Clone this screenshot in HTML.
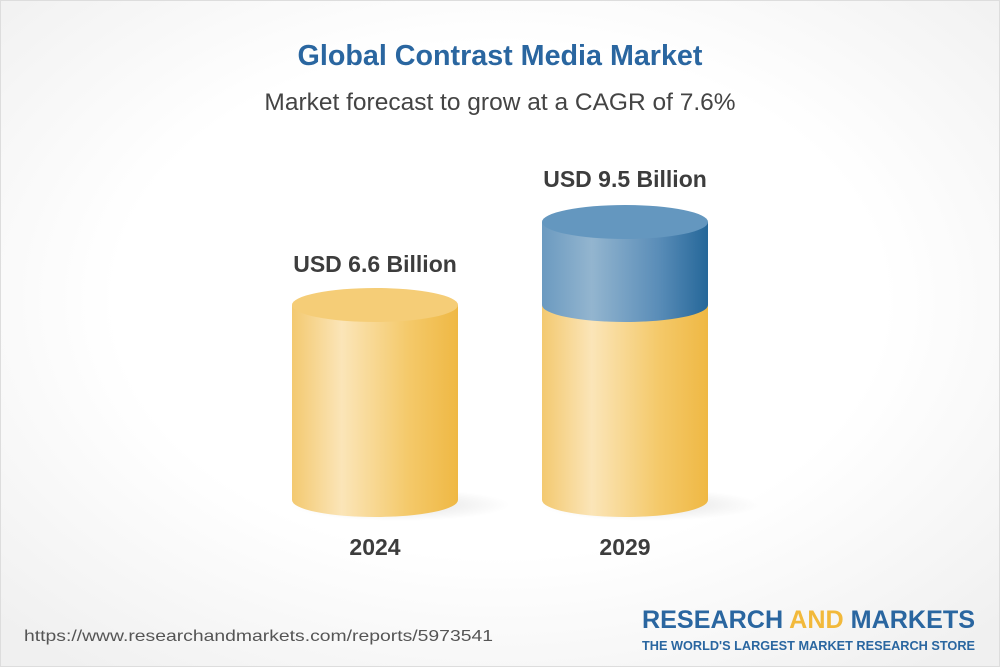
<!DOCTYPE html>
<html><head><style>
body{margin:0;width:1000px;height:667px;overflow:hidden;font-family:"Liberation Sans",sans-serif;}
.bg{position:absolute;left:0;top:0;width:998px;height:665px;border:1px solid #ddd;background:radial-gradient(ellipse 70% 70% at 50% 45%,#fff 55%,#f0f0f0 100%);}
.t{position:absolute;width:1000px;text-align:center;}
</style></head><body>
<div class="bg"></div>
<div class="t" style="top:40px;font-size:28.7px;font-weight:bold;color:#2a66a0;">Global Contrast Media Market</div>
<div class="t" style="top:89px;font-size:24.5px;color:#444;">Market forecast to grow at a CAGR of 7.6%</div>
<svg width="1000" height="667" style="position:absolute;left:0;top:0">
<defs>
<linearGradient id="y" x1="0" x2="1"><stop offset="0" stop-color="#f3c970"/><stop offset="0.3" stop-color="#fbe5b8"/><stop offset="0.7" stop-color="#f4c96a"/><stop offset="1" stop-color="#efb844"/></linearGradient>
<linearGradient id="b" x1="0" x2="1"><stop offset="0" stop-color="#6b9ac0"/><stop offset="0.3" stop-color="#93b5cf"/><stop offset="0.7" stop-color="#5a8db8"/><stop offset="1" stop-color="#256799"/></linearGradient>
<radialGradient id="sh"><stop offset="0" stop-color="#000" stop-opacity="0.12"/><stop offset="1" stop-color="#000" stop-opacity="0"/></radialGradient>
</defs>
<ellipse cx="400" cy="505" rx="110" ry="16" fill="url(#sh)"/>
<ellipse cx="650" cy="505" rx="110" ry="16" fill="url(#sh)"/>
<path d="M292 305 V500 A83 17 0 0 0 458 500 V305 Z" fill="url(#y)"/>
<ellipse cx="375" cy="305" rx="83" ry="17" fill="#f5cd77"/>
<path d="M542 305 V500 A83 17 0 0 0 708 500 V305 Z" fill="url(#y)"/>
<path d="M542 222 V305 A83 17 0 0 0 708 305 V222 Z" fill="url(#b)"/>
<ellipse cx="625" cy="222" rx="83" ry="17" fill="#6497bf"/>
<text x="375" y="272" text-anchor="middle" font-size="23" font-weight="bold" fill="#3d3d3d" font-family="Liberation Sans">USD 6.6 Billion</text>
<text x="625" y="187" text-anchor="middle" font-size="23" font-weight="bold" fill="#3d3d3d" font-family="Liberation Sans">USD 9.5 Billion</text>
<text x="375" y="555" text-anchor="middle" font-size="23" font-weight="bold" fill="#3d3d3d" font-family="Liberation Sans">2024</text>
<text x="625" y="555" text-anchor="middle" font-size="23" font-weight="bold" fill="#3d3d3d" font-family="Liberation Sans">2029</text>
<text x="24" y="641" font-size="16" fill="#555" font-family="Liberation Sans" textLength="469" lengthAdjust="spacingAndGlyphs">https://www.researchandmarkets.com/reports/5973541</text>
<text x="975" y="628" text-anchor="end" font-size="25" font-weight="bold" fill="#2a66a0" font-family="Liberation Sans" textLength="333" lengthAdjust="spacingAndGlyphs">RESEARCH <tspan fill="#f2b93b">AND</tspan> MARKETS</text>
<text x="975" y="650" text-anchor="end" font-size="13" font-weight="bold" fill="#2a66a0" font-family="Liberation Sans" textLength="333" lengthAdjust="spacingAndGlyphs">THE WORLD'S LARGEST MARKET RESEARCH STORE</text>
</svg>
</body></html>
